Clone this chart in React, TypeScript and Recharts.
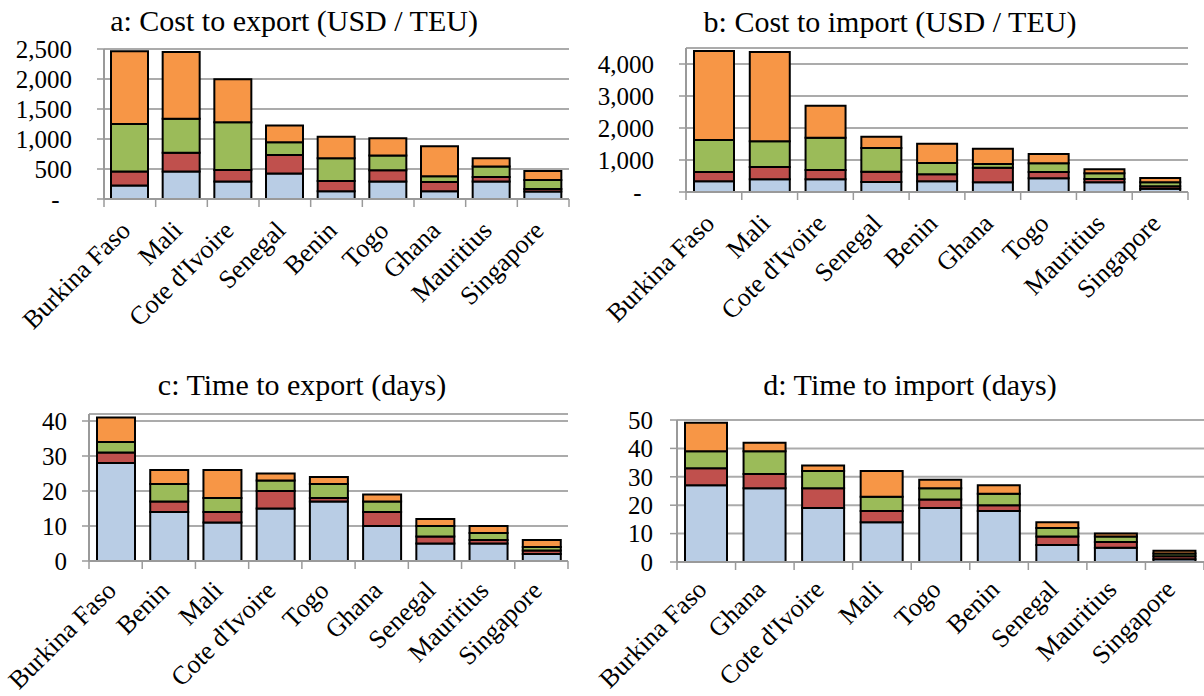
// 輸出入コスト・日数 4パネル積み上げ棒グラフ
import { BarChart, Bar, XAxis, YAxis, CartesianGrid } from "recharts";

const FONT = '"Liberation Serif", "Times New Roman", serif';

// a: 輸出コスト (USD / TEU)
const costExportCountries = ["Burkina Faso", "Mali", "Cote d'Ivoire", "Senegal", "Benin", "Togo", "Ghana", "Mauritius", "Singapore"];
const costExportDocs = [223, 457, 290, 423, 128, 290, 128, 290, 123];
const costExportCustoms = [234, 312, 195, 312, 173, 189, 156, 78, 44];
const costExportPorts = [791, 568, 796, 212, 379, 245, 95, 172, 151];
const costExportInland = [1214, 1114, 713, 278, 356, 290, 501, 140, 150];

// b: 輸入コスト (USD / TEU)
const costImportCountries = ["Burkina Faso", "Mali", "Cote d'Ivoire", "Senegal", "Benin", "Ghana", "Togo", "Mauritius", "Singapore"];
const costImportDocs = [333, 396, 396, 313, 333, 302, 427, 302, 104];
const costImportCustoms = [292, 385, 292, 323, 219, 459, 198, 104, 73];
const costImportPorts = [1000, 802, 1010, 739, 354, 114, 271, 178, 125];
const costImportInland = [2783, 2793, 1001, 355, 605, 480, 292, 125, 136];

// c: 輸出日数
const timeExportCountries = ["Burkina Faso", "Benin", "Mali", "Cote d'Ivoire", "Togo", "Ghana", "Senegal", "Mauritius", "Singapore"];
const timeExportDocs = [28, 14, 11, 15, 17, 10, 5, 5, 2];
const timeExportCustoms = [3, 3, 3, 5, 1, 4, 2, 1, 1];
const timeExportPorts = [3, 5, 4, 3, 4, 3, 3, 2, 1];
const timeExportInland = [7, 4, 8, 2, 2, 2, 2, 2, 2];

// d: 輸入日数
const timeImportCountries = ["Burkina Faso", "Ghana", "Cote d'Ivoire", "Mali", "Togo", "Benin", "Senegal", "Mauritius", "Singapore"];
const timeImportDocs = [27, 26, 19, 14, 19, 18, 6, 5, 1];
const timeImportCustoms = [6, 5, 7, 4, 3, 2, 3, 2, 1];
const timeImportPorts = [6, 8, 6, 5, 4, 4, 3, 2, 1];
const timeImportInland = [10, 3, 2, 9, 3, 3, 2, 1, 1];

// 軸目盛
const costExportTicks = [0, 500, 1000, 1500, 2000, 2500];
const costImportTicks = [0, 1000, 2000, 3000, 4000];
const timeExportTicks = [0, 10, 20, 30, 40];
const timeImportTicks = [0, 10, 20, 30, 40, 50];

type Row = { country: string; docs: number; customs: number; ports: number; inland: number };

const buildRows = (countries: string[], docs: number[], customs: number[], ports: number[], inland: number[]): Row[] =>
  countries.map((country, i) => ({ country, docs: docs[i], customs: customs[i], ports: ports[i], inland: inland[i] }));

// 下から 青 → 赤 → 緑 → オレンジ
const SERIES = [
  { key: "docs", color: "#B9CDE5" },
  { key: "customs", color: "#C0504D" },
  { key: "ports", color: "#9BBB59" },
  { key: "inland", color: "#F79646" },
];

const AXIS_GRAY = "#9A9A9A";
const GRID_GRAY = "#ABABAB";

type PanelProps = {
  title: string;
  titleX: number;
  titleY: number;
  left: number;
  top: number;
  width: number;
  height: number;
  plotLeft: number;
  plotRight: number;
  plotTop: number;
  plotBottom: number;
  rows: Row[];
  max: number;
  ticks: number[];
  barSize: number;
  labelGap: number;
  labelDy: number;
  money: boolean;
};

// カテゴリ境界の目盛り線 + 45度回転ラベル
function CategoryTick(props: any) {
  const { x, y, payload, index, band, count, dy } = props;
  const tx = x + 2;
  const ty = y + dy;
  return (
    <g>
      <line x1={x - band / 2} x2={x - band / 2} y1={y} y2={y + 8} stroke={AXIS_GRAY} strokeWidth={1.5} />
      {index === count - 1 && (
        <line x1={x + band / 2} x2={x + band / 2} y1={y} y2={y + 8} stroke={AXIS_GRAY} strokeWidth={1.5} />
      )}
      <text
        x={tx}
        y={ty}
        transform={`rotate(-45, ${tx}, ${ty})`}
        textAnchor="end"
        fontSize={26}
        fontFamily={FONT}
        fill="#000"
      >
        {payload.value}
      </text>
    </g>
  );
}

function Panel(p: PanelProps) {
  const band = (p.plotRight - p.plotLeft) / p.rows.length;
  const fmt = (v: number) => (p.money ? (v === 0 ? "-\u00a0\u00a0" : v.toLocaleString("en-US")) : String(v));

  return (
    <>
      <div
        style={{
          position: "absolute",
          left: p.titleX - 300,
          top: p.titleY - 25,
          width: 600,
          textAlign: "center",
          fontSize: 30,
          lineHeight: "30px",
          fontFamily: FONT,
          color: "#000",
          whiteSpace: "nowrap",
        }}
      >
        {p.title}
      </div>
      <div style={{ position: "absolute", left: p.left, top: p.top }}>
        <BarChart
          width={p.width}
          height={p.height}
          data={p.rows}
          margin={{ top: p.plotTop - p.top, right: p.left + p.width - p.plotRight, bottom: 0, left: 0 }}
          barSize={p.barSize}
        >
          <CartesianGrid vertical={false} stroke={GRID_GRAY} strokeWidth={2} />
          <XAxis
            dataKey="country"
            interval={0}
            height={p.top + p.height - p.plotBottom}
            tickSize={0}
            tickMargin={0}
            tickLine={false}
            axisLine={{ stroke: AXIS_GRAY, strokeWidth: 2 }}
            tick={(t: any) => <CategoryTick {...t} band={band} count={p.rows.length} dy={p.labelDy} />}
          />
          <YAxis
            width={p.plotLeft - p.left}
            domain={[0, p.max]}
            ticks={p.ticks}
            interval={0}
            tickSize={7}
            tickMargin={p.labelGap}
            tickFormatter={fmt}
            tickLine={{ stroke: AXIS_GRAY, strokeWidth: 1.5 }}
            axisLine={{ stroke: AXIS_GRAY, strokeWidth: 2 }}
            tick={{ fontSize: 25, fontFamily: FONT, fill: "#000" }}
          />
          {SERIES.map((s) => (
            <Bar
              key={s.key}
              dataKey={s.key}
              stackId="a"
              fill={s.color}
              stroke="#000"
              strokeWidth={2}
              isAnimationActive={false}
            />
          ))}
        </BarChart>
      </div>
    </>
  );
}

export default function App() {
  return (
    <div
      style={{
        position: "absolute",
        left: 0,
        top: 0,
        width: 1204,
        height: 696,
        background: "#fff",
        overflow: "hidden",
        fontFamily: FONT,
      }}
    >
      <Panel
        title="a: Cost to export (USD / TEU)"
        titleX={294}
        titleY={31}
        left={0}
        top={0}
        width={580}
        height={350}
        plotLeft={104}
        plotRight={569}
        plotTop={49}
        plotBottom={199}
        rows={buildRows(costExportCountries, costExportDocs, costExportCustoms, costExportPorts, costExportInland)}
        max={2500}
        ticks={costExportTicks}
        barSize={37}
        labelGap={25}
        labelDy={33}
        money
      />
      <Panel
        title="b: Cost to import (USD / TEU)"
        titleX={890}
        titleY={32}
        left={560}
        top={0}
        width={644}
        height={350}
        plotLeft={686}
        plotRight={1188}
        plotTop={48}
        plotBottom={192}
        rows={buildRows(costImportCountries, costImportDocs, costImportCustoms, costImportPorts, costImportInland)}
        max={4500}
        ticks={costImportTicks}
        barSize={40}
        labelGap={25}
        labelDy={33}
        money
      />
      <Panel
        title="c: Time to export (days)"
        titleX={302}
        titleY={395}
        left={0}
        top={360}
        width={580}
        height={336}
        plotLeft={89}
        plotRight={568}
        plotTop={414}
        plotBottom={561}
        rows={buildRows(timeExportCountries, timeExportDocs, timeExportCustoms, timeExportPorts, timeExportInland)}
        max={42}
        ticks={timeExportTicks}
        barSize={38}
        labelGap={15}
        labelDy={31}
        money={false}
      />
      <Panel
        title="d: Time to import (days)"
        titleX={910}
        titleY={395}
        left={560}
        top={360}
        width={644}
        height={336}
        plotLeft={677}
        plotRight={1204}
        plotTop={420}
        plotBottom={562}
        rows={buildRows(timeImportCountries, timeImportDocs, timeImportCustoms, timeImportPorts, timeImportInland)}
        max={50}
        ticks={timeImportTicks}
        barSize={42}
        labelGap={17}
        labelDy={29}
        money={false}
      />
    </div>
  );
}
